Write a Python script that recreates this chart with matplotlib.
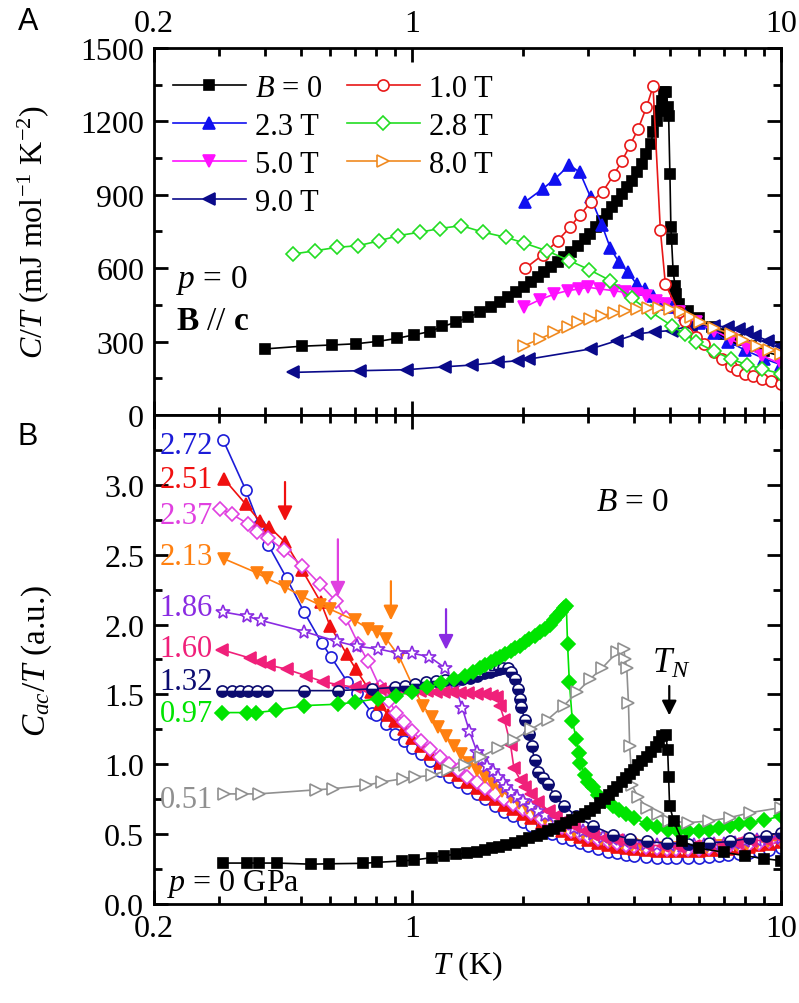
import matplotlib
matplotlib.use('Agg')
import matplotlib.pyplot as plt
from matplotlib.ticker import FixedLocator, NullFormatter, FixedFormatter

plt.rcParams['font.family'] = ['Liberation Serif', 'DejaVu Serif']
plt.rcParams['mathtext.fontset'] = 'custom'
plt.rcParams['mathtext.rm'] = 'Liberation Serif'
plt.rcParams['mathtext.it'] = 'Liberation Serif:italic'
plt.rcParams['mathtext.bf'] = 'Liberation Serif:bold'

# ---------------- Panel A data: C/T (mJ mol^-1 K^-2) vs T (K) ----------------
a_B0_T = [0.40, 0.503, 0.606, 0.705, 0.811, 0.909, 1.01, 1.12, 1.21, 1.32, 1.42, 1.53, 1.64, 1.73, 1.82,
          1.91, 2.01, 2.10, 2.19, 2.28, 2.38, 2.48, 2.59, 2.70, 2.82, 2.94, 3.04, 3.16, 3.27, 3.38, 3.48,
          3.59, 3.71, 3.82, 3.94, 4.06, 4.19, 4.32, 4.43, 4.51, 4.61, 4.68, 4.75, 4.81, 4.88, 4.94, 4.96,
          5.0, 5.03, 5.05, 5.1, 5.16, 5.2, 5.3, 5.6, 6.0, 6.5, 7.0, 7.6, 8.3, 9.0, 10.0]
a_B0_C = [270, 281, 286, 291, 301, 313, 327, 341, 362, 379, 399, 420, 440, 461, 481,
          501, 522, 542, 563, 583, 604, 624, 644, 667, 692, 719, 740, 767, 794, 821, 849,
          876, 903, 931, 958, 992, 1026, 1067, 1108, 1155, 1203, 1244, 1285, 1319, 1321, 1258, 1223,
          985, 767, 719, 590, 528, 494, 454, 425, 395, 360, 330, 305, 280, 260, 240]

a_10_T = [2.03, 2.26, 2.48, 2.68, 2.85, 3.05, 3.29, 3.52, 3.71, 3.90, 4.10, 4.32, 4.50, 4.71, 4.86,
          5.28, 5.5, 5.9, 6.2, 6.6, 6.9, 7.3, 7.6, 8.0, 8.4, 8.9, 9.4, 10.0]
a_10_C = [600, 654, 712, 767, 817, 869, 913, 981, 1039, 1103, 1169, 1258, 1343, 757, 535,
          421, 385, 318, 290, 256, 230, 201, 185, 168, 158, 147, 137, 127]

a_23_T = [2.03, 2.26, 2.44, 2.67, 2.85, 3.05, 3.27, 3.45, 3.64, 3.85, 4.06, 4.28, 4.50, 4.78, 5.05,
          5.5, 6.0, 6.6, 7.2, 8.0, 9.0, 10.0]
a_23_C = [872, 924, 965, 1022, 992, 889, 777, 681, 624, 583, 535, 515, 485, 454, 440,
          410, 375, 335, 300, 265, 230, 205]

a_28_T = [0.477, 0.546, 0.625, 0.716, 0.816, 0.918, 1.05, 1.19, 1.36, 1.56, 1.80, 2.01, 2.32, 2.67,
          3.02, 3.45, 3.94, 4.45, 5.05, 5.5, 5.9, 6.6, 7.3, 8.1, 8.9, 10.0]
a_28_C = [658, 671, 685, 692, 712, 733, 747, 762, 774, 747, 726, 703, 671, 631,
          594, 549, 477, 420, 365, 330, 297, 260, 229, 205, 188, 168]

a_50_T = [2.01, 2.22, 2.43, 2.64, 2.84, 3.0, 3.23, 3.52, 3.78, 4.06, 4.32, 4.59, 4.89, 5.3, 5.9,
          6.6, 7.3, 8.1, 8.9, 10.0]
a_50_C = [440, 471, 494, 508, 515, 522, 515, 508, 501, 494, 488, 467, 454, 420, 379,
          345, 311, 275, 242, 208]

a_80_T = [2.01, 2.22, 2.43, 2.64, 2.82, 3.04, 3.27, 3.52, 3.78, 4.06, 4.37, 4.68, 5.0, 5.35, 5.7,
          6.03, 6.6, 7.3, 7.9, 8.6, 9.3, 10.0]
a_80_C = [283, 311, 338, 358, 379, 392, 406, 417, 426, 433, 436, 436, 433, 420, 400,
          379, 355, 331, 305, 283, 265, 249]

a_90_T = [0.477, 0.723, 0.968, 1.229, 1.452, 1.714, 1.94, 2.07, 3.05, 3.6, 4.06, 4.55, 5.05, 5.7,
          6.6, 7.2, 7.7, 8.1, 8.5, 9.2, 10.0]
a_90_C = [174, 181, 185, 197, 204, 215, 222, 228, 270, 304, 331, 340, 345, 365,
          365, 358, 351, 338, 324, 304, 283]

# ---------------- Panel B data: C_ac/T (a.u.) vs T (K) at pressures (GPa) ----------------
b_272_T = [0.308, 0.355, 0.386, 0.408, 0.458, 0.51, 0.569, 0.603, 0.668, 0.708, 0.778, 0.80, 0.85, 0.90,
           0.95, 1.0, 1.06, 1.12, 1.19, 1.26, 1.33, 1.41, 1.50, 1.58, 1.68, 1.78, 1.88, 2.0, 2.1, 2.25,
           2.4, 2.55, 2.7, 2.85, 3.0, 3.2, 3.4, 3.6, 3.8, 4.0, 4.3, 4.6, 4.9, 5.2, 5.6, 6.0, 6.4, 6.8,
           7.2, 7.7, 8.2, 8.7, 9.3, 10.0]
b_272_V = [3.32, 2.96, 2.71, 2.57, 2.33, 2.09, 1.87, 1.77, 1.59, 1.51, 1.37, 1.35, 1.29, 1.22,
           1.17, 1.12, 1.07, 1.02, 0.95, 0.91, 0.87, 0.83, 0.79, 0.75, 0.70, 0.66, 0.63, 0.59, 0.56, 0.525,
           0.50, 0.475, 0.455, 0.435, 0.415, 0.395, 0.375, 0.362, 0.352, 0.345, 0.338, 0.332, 0.328, 0.327,
           0.327, 0.332, 0.338, 0.344, 0.35, 0.357, 0.365, 0.375, 0.385, 0.40]

b_251_T = [0.31, 0.355, 0.387, 0.41, 0.453, 0.504, 0.566, 0.60, 0.665, 0.705, 0.773, 0.819, 0.863, 0.9,
           0.95, 1.0, 1.06, 1.12, 1.19, 1.26, 1.33, 1.41, 1.5, 1.58, 1.68, 1.78, 1.88, 2.0, 2.1, 2.25,
           2.4, 2.55, 2.7, 2.85, 3.0, 3.2, 3.4, 3.6, 3.8, 4.0, 4.3, 4.6, 4.9, 5.2, 5.6, 6.0, 6.4, 6.8,
           7.2, 7.7, 8.2, 8.7, 9.3, 10.0]
b_251_V = [3.04, 2.86, 2.74, 2.70, 2.59, 2.39, 2.16, 1.99, 1.79, 1.68, 1.515, 1.43, 1.35, 1.31,
           1.25, 1.19, 1.13, 1.07, 1.01, 0.96, 0.92, 0.87, 0.83, 0.79, 0.75, 0.71, 0.68, 0.645, 0.615, 0.58,
           0.55, 0.52, 0.50, 0.48, 0.46, 0.44, 0.425, 0.41, 0.40, 0.392, 0.385, 0.38, 0.377, 0.376, 0.377,
           0.38, 0.385, 0.39, 0.395, 0.40, 0.41, 0.42, 0.43, 0.445]

b_237_T = [0.302, 0.325, 0.36, 0.381, 0.408, 0.451, 0.505, 0.563, 0.621, 0.661, 0.716, 0.759, 0.819, 0.868,
           0.905, 0.95, 1.0, 1.06, 1.12, 1.19, 1.26, 1.33, 1.41, 1.5, 1.58, 1.68, 1.78, 1.88, 2.0, 2.1,
           2.25, 2.4, 2.55, 2.7, 2.85, 3.0, 3.2, 3.4, 3.6, 3.8, 4.0, 4.3, 4.6, 4.9, 5.2, 5.6, 6.0, 6.4,
           6.8, 7.2, 7.7, 8.2, 8.7, 9.3, 10.0]
b_237_V = [2.83, 2.79, 2.72, 2.665, 2.62, 2.53, 2.42, 2.29, 2.17, 2.05, 1.86, 1.74, 1.55, 1.455,
           1.37, 1.30, 1.24, 1.17, 1.11, 1.05, 1.0, 0.96, 0.91, 0.87, 0.83, 0.79, 0.75, 0.715, 0.68, 0.65,
           0.61, 0.58, 0.55, 0.525, 0.505, 0.485, 0.465, 0.45, 0.435, 0.425, 0.415, 0.405, 0.40, 0.395,
           0.393, 0.393, 0.395, 0.40, 0.405, 0.41, 0.42, 0.43, 0.44, 0.45, 0.465]

b_213_T = [0.31, 0.38, 0.404, 0.453, 0.504, 0.563, 0.60, 0.70, 0.761, 0.805, 0.851, 0.924, 1.013, 1.073,
           1.13, 1.18, 1.24, 1.3, 1.36, 1.43, 1.5, 1.58, 1.66, 1.75, 1.85, 1.95, 2.05, 2.15, 2.3, 2.45,
           2.6, 2.75, 2.9, 3.05, 3.25, 3.45, 3.7, 3.95, 4.2, 4.5, 4.8, 5.1, 5.5, 5.9, 6.3, 6.7, 7.1, 7.6,
           8.1, 8.6, 9.2, 10.0]
b_213_V = [2.47, 2.37, 2.33, 2.27, 2.20, 2.14, 2.11, 2.03, 1.97, 1.95, 1.90, 1.77, 1.54, 1.415,
           1.34, 1.27, 1.20, 1.13, 1.07, 1.01, 0.96, 0.91, 0.86, 0.81, 0.765, 0.72, 0.685, 0.655, 0.615,
           0.58, 0.55, 0.525, 0.505, 0.485, 0.465, 0.45, 0.435, 0.425, 0.415, 0.407, 0.402, 0.40, 0.40,
           0.403, 0.408, 0.413, 0.418, 0.425, 0.433, 0.44, 0.45, 0.46]

b_186_T = [0.308, 0.357, 0.389, 0.51, 0.625, 0.708, 0.811, 0.918, 0.998, 1.114, 1.229, 1.308, 1.37, 1.43,
           1.50, 1.55, 1.60, 1.66, 1.71, 1.76, 1.80, 1.86, 1.92, 2.0, 2.1, 2.2, 2.3, 2.45, 2.6, 2.75,
           2.9, 3.1, 3.3, 3.5, 3.75, 4.0, 4.3, 4.6, 5.0, 5.4, 5.8, 6.2, 6.6, 7.0, 7.5, 8.0, 8.6, 9.2, 10.0]
b_186_V = [2.09, 2.06, 2.03, 1.95, 1.88, 1.845, 1.825, 1.795, 1.795, 1.77, 1.69, 1.56, 1.40, 1.24,
           1.09, 1.04, 0.99, 0.95, 0.91, 0.87, 0.84, 0.80, 0.765, 0.735, 0.70, 0.665, 0.635, 0.60, 0.57,
           0.545, 0.525, 0.50, 0.48, 0.465, 0.45, 0.44, 0.43, 0.423, 0.42, 0.418, 0.42, 0.423, 0.428,
           0.433, 0.44, 0.448, 0.455, 0.463, 0.475]

b_160_T = [0.305, 0.364, 0.387, 0.41, 0.458, 0.516, 0.575, 0.632, 0.70, 0.74, 0.78, 0.82, 0.86, 0.9,
           0.95, 1.0, 1.05, 1.1, 1.16, 1.22, 1.28, 1.35, 1.42, 1.5, 1.58, 1.65, 1.70, 1.73, 1.78, 1.85,
           1.89, 1.97, 2.03, 2.1, 2.2, 2.35, 2.45, 2.58, 2.75, 2.94, 3.1, 3.34, 3.6, 3.9, 4.33, 4.8, 5.3,
           5.8, 6.4, 7.0, 7.6, 8.3, 9.1, 10.0]
b_160_V = [1.82, 1.76, 1.735, 1.71, 1.68, 1.634, 1.59, 1.57, 1.55, 1.545, 1.54, 1.54, 1.535, 1.535,
           1.53, 1.53, 1.525, 1.525, 1.52, 1.52, 1.515, 1.51, 1.51, 1.505, 1.50, 1.49, 1.48, 1.42, 1.32,
           1.14, 0.97, 0.885, 0.84, 0.79, 0.73, 0.666, 0.63, 0.594, 0.555, 0.521, 0.495, 0.472, 0.455, 0.44,
           0.424, 0.415, 0.41, 0.412, 0.42, 0.43, 0.44, 0.45, 0.46, 0.47]

b_132_T = [0.305, 0.325, 0.342, 0.36, 0.38, 0.404, 0.51, 0.632, 0.78, 0.9, 0.96, 1.02, 1.09, 1.16, 1.23,
           1.3, 1.37, 1.44, 1.5, 1.57, 1.63, 1.68, 1.72, 1.77, 1.82, 1.86, 1.9, 1.94, 1.96, 1.98, 2.02,
           2.07, 2.11, 2.15, 2.2, 2.26, 2.33, 2.44, 2.58, 2.79, 3.09, 3.5, 3.9, 4.33, 4.9, 5.6, 6.4, 7.26,
           8.2, 9.1, 10.0]
b_132_V = [1.527, 1.527, 1.527, 1.527, 1.527, 1.527, 1.527, 1.527, 1.54, 1.55, 1.56, 1.575, 1.59, 1.595,
           1.60, 1.605, 1.61, 1.62, 1.635, 1.65, 1.66, 1.675, 1.685, 1.69, 1.69, 1.66, 1.61, 1.54, 1.47,
           1.41, 1.32, 1.22, 1.13, 1.03, 0.946, 0.90, 0.86, 0.776, 0.703, 0.63, 0.558, 0.497, 0.465, 0.448,
           0.435, 0.43, 0.435, 0.448, 0.47, 0.49, 0.51]

b_097_T = [0.305, 0.357, 0.378, 0.427, 0.51, 0.632, 0.70, 0.81, 0.905, 1.0, 1.1, 1.2, 1.3, 1.39, 1.46,
           1.53, 1.58, 1.64, 1.69, 1.73, 1.79, 1.85, 1.9, 1.96, 2.02, 2.08, 2.15, 2.22, 2.29, 2.36, 2.42,
           2.47, 2.53, 2.58, 2.62, 2.64, 2.67, 2.72, 2.79, 2.83, 2.86, 2.94, 3.0, 3.09, 3.2, 3.34, 3.5,
           3.65, 3.8, 4.0, 4.33, 4.6, 4.93, 5.25, 5.6, 6.0, 6.38, 6.8, 7.26, 7.7, 8.26, 9.0, 10.0]
b_097_V = [1.37, 1.37, 1.37, 1.385, 1.42, 1.43, 1.445, 1.47, 1.49, 1.52, 1.55, 1.58, 1.61, 1.634, 1.66,
           1.69, 1.71, 1.73, 1.75, 1.77, 1.79, 1.81, 1.83, 1.85, 1.875, 1.90, 1.92, 1.945, 1.97, 2.0, 2.03,
           2.06, 2.09, 2.12, 2.135, 1.86, 1.59, 1.31, 1.18, 1.08, 1.01, 0.92, 0.87, 0.837, 0.78, 0.74, 0.70,
           0.67, 0.642, 0.615, 0.57, 0.55, 0.533, 0.525, 0.521, 0.525, 0.533, 0.545, 0.558, 0.57, 0.582,
           0.60, 0.63]

b_051_T = [0.31, 0.347, 0.384, 0.548, 0.61, 0.75, 0.829, 0.947, 1.02, 1.13, 1.25, 1.39, 1.54, 1.71, 1.89,
           2.1, 2.33, 2.58, 2.8, 3.04, 3.28, 3.59, 3.75, 3.78, 3.82, 3.86, 3.89, 3.95, 4.1, 4.33, 4.65,
           4.97, 5.6, 6.38, 7.26, 8.26, 10.0]
b_051_V = [0.788, 0.788, 0.788, 0.817, 0.825, 0.849, 0.873, 0.897, 0.909, 0.92, 0.958, 0.994, 1.055,
           1.115, 1.176, 1.25, 1.32, 1.42, 1.515, 1.61, 1.69, 1.80, 1.825, 1.75, 1.69, 1.44, 1.13, 0.849,
           0.764, 0.69, 0.642, 0.594, 0.582, 0.594, 0.618, 0.654, 0.69]

b_000_T = [0.308, 0.357, 0.386, 0.43, 0.534, 0.596, 0.738, 0.803, 0.94, 1.01, 1.13, 1.22, 1.32, 1.41,
           1.50, 1.58, 1.65, 1.72, 1.80, 1.9, 1.99, 2.08, 2.18, 2.25, 2.33, 2.42, 2.52, 2.62, 2.72, 2.83,
           2.94, 3.03, 3.13, 3.23, 3.34, 3.42, 3.5, 3.6, 3.7, 3.8, 3.89, 4.0, 4.1, 4.2, 4.33, 4.45, 4.57,
           4.66, 4.75, 4.87, 4.93, 4.96, 4.99, 5.12, 5.4, 6.0, 7.0, 8.0, 9.0, 10.0]
b_000_V = [0.293, 0.293, 0.293, 0.293, 0.285, 0.288, 0.291, 0.298, 0.308, 0.315, 0.331, 0.346, 0.356,
           0.365, 0.375, 0.388, 0.40, 0.41, 0.424, 0.44, 0.453, 0.47, 0.485, 0.50, 0.521, 0.54, 0.558,
           0.578, 0.598, 0.62, 0.642, 0.665, 0.69, 0.72, 0.752, 0.78, 0.812, 0.84, 0.873, 0.90, 0.933, 0.96,
           0.994, 1.02, 1.055, 1.09, 1.127, 1.16, 1.20, 1.213, 1.10, 0.909, 0.703, 0.594, 0.448, 0.40, 0.37,
           0.345, 0.325, 0.31]

pressure_labels = ['2.72', '2.51', '2.37', '2.13', '1.86', '1.60', '1.32', '0.97', '0.51']
pressure_label_y = [3.28, 3.04, 2.78, 2.49, 2.12, 1.83, 1.59, 1.36, 0.75]

# arrows marking kinks: (T, tail value, tip value)
arrow_T = [0.453, 0.63, 0.877, 1.237]
arrow_tail = [3.04, 2.63, 2.33, 2.13]
arrow_tip = [2.72, 2.18, 2.01, 1.80]

# ---------------- figure ----------------
fig = plt.figure(figsize=(7.99, 10.04), dpi=100)
axA = fig.add_axes([0.1927, 0.5857, 0.7848, 0.3655])
axB = fig.add_axes([0.1927, 0.0986, 0.7848, 0.4871])

TICK_FS = 23
for ax in (axA, axB):
    ax.set_xscale('log')
    ax.set_xlim(0.2, 10)
    ax.xaxis.set_major_locator(FixedLocator([0.2, 1, 10]))
    ax.xaxis.set_major_formatter(FixedFormatter(['0.2', '1', '10']))
    ax.xaxis.set_minor_locator(FixedLocator([0.3, 0.4, 0.5, 0.6, 0.7, 0.8, 0.9, 2, 3, 4, 5, 6, 7, 8, 9]))
    ax.xaxis.set_minor_formatter(NullFormatter())
    ax.tick_params(which='both', direction='in', top=True, right=True, width=2)
    ax.tick_params(which='major', length=10, labelsize=TICK_FS, pad=7)
    ax.tick_params(which='minor', length=6)
    for s in ax.spines.values():
        s.set_linewidth(2)

axA.tick_params(axis='x', labeltop=True, labelbottom=False)
axA.set_ylim(0, 1500)
axA.yaxis.set_major_locator(FixedLocator([0, 300, 600, 900, 1200, 1500]))
axA.yaxis.set_minor_locator(FixedLocator([150, 450, 750, 1050, 1350]))

axB.set_ylim(0, 3.5)
axB.yaxis.set_major_locator(FixedLocator([0, 0.5, 1.0, 1.5, 2.0, 2.5, 3.0]))
axB.yaxis.set_major_formatter(FixedFormatter(['0.0', '0.5', '1.0', '1.5', '2.0', '2.5', '3.0']))
axB.yaxis.set_minor_locator(FixedLocator([0.25, 0.75, 1.25, 1.75, 2.25, 2.75, 3.25]))

LW = 1.2
# Panel A series
sA = [
    (a_B0_T, a_B0_C, r'$B$ = 0', dict(color='black', marker='s', mfc='black', ms=7)),
    (a_23_T, a_23_C, '2.3 T', dict(color='#1010f0', marker='^', mfc='#1010f0', ms=9)),
    (a_50_T, a_50_C, '5.0 T', dict(color='#ff10ff', marker='v', mfc='#ff10ff', ms=9)),
    (a_90_T, a_90_C, '9.0 T', dict(color='#0a0a8a', marker='<', mfc='#0a0a8a', ms=9)),
    (a_10_T, a_10_C, '1.0 T', dict(color='#e81818', marker='o', mfc='white', ms=8)),
    (a_28_T, a_28_C, '2.8 T', dict(color='#22dd22', marker='D', mfc='white', ms=7)),
    (a_80_T, a_80_C, '8.0 T', dict(color='#f08a20', marker='>', mfc='white', ms=9)),
]
handles = []
for T, C, lab, st in sA:
    h, = axA.plot(T, C, lw=LW, mew=1.2, label=lab, **st)
    handles.append(h)
axA.legend(handles=handles, ncol=2, loc='upper left', bbox_to_anchor=(0.03, 0.93),
           frameon=False, fontsize=22, handlelength=2.4, handletextpad=0.3,
           columnspacing=0.8, labelspacing=0.3, borderpad=0, borderaxespad=0)
axA.text(0.035, 0.37, r'$p$ = 0', transform=axA.transAxes, fontsize=24, va='center', ha='left')
axA.text(0.035, 0.256, r'$\mathbf{B}$ // $\mathbf{c}$', transform=axA.transAxes, fontsize=24,
         va='center', ha='left')
axA.set_ylabel(r'$C/T$ (mJ mol$^{\mathrm{-1}}$ K$^{\mathrm{-2}}$)', fontsize=23)
axA.yaxis.set_label_coords(-0.165, 0.5)

# Panel B series
pcol = ['#1c1cd8', '#f01010', '#e040e0', '#ff8010', '#8a2be2', '#f0207a', '#0b0b70', '#00e400', '#909090']
sB = [
    (b_272_T, b_272_V, dict(color=pcol[0], marker='o', mfc='white', ms=8)),
    (b_251_T, b_251_V, dict(color=pcol[1], marker='^', mfc=pcol[1], ms=9)),
    (b_237_T, b_237_V, dict(color=pcol[2], marker='D', mfc='white', ms=7)),
    (b_213_T, b_213_V, dict(color=pcol[3], marker='v', mfc=pcol[3], ms=9)),
    (b_186_T, b_186_V, dict(color=pcol[4], marker='*', mfc='white', ms=10)),
    (b_160_T, b_160_V, dict(color=pcol[5], marker='<', mfc=pcol[5], ms=9)),
    (b_132_T, b_132_V, dict(color=pcol[6], marker='o', mfc=pcol[6], fillstyle='bottom',
                            markerfacecoloralt='white', ms=8)),
    (b_097_T, b_097_V, dict(color=pcol[7], marker='D', mfc=pcol[7], ms=7)),
    (b_051_T, b_051_V, dict(color=pcol[8], marker='>', mfc='white', ms=9)),
    (b_000_T, b_000_V, dict(color='black', marker='s', mfc='black', ms=7)),
]
for T, V, st in sB:
    axB.plot(T, V, lw=LW, mew=1.2, **st)

for lab, y, c in zip(pressure_labels, pressure_label_y, pcol):
    axB.text(0.289, y, lab, color=c, fontsize=22, ha='right', va='center')

for T, t0, t1, c in zip(arrow_T, arrow_tail, arrow_tip, [pcol[1], pcol[2], pcol[3], pcol[4]]):
    axB.annotate('', xy=(T, t1), xytext=(T, t0),
                 arrowprops=dict(arrowstyle='-|>', color=c, lw=1.6, mutation_scale=22))
axB.annotate('', xy=(4.98, 1.33), xytext=(4.98, 1.58),
             arrowprops=dict(arrowstyle='-|>', color='black', lw=1.6, mutation_scale=22))
axB.text(5.05, 1.72, r'$T_N$', fontsize=25, ha='center', va='center')
axB.text(3.97, 2.88, r'$B$ = 0', fontsize=24, ha='center', va='center')
axB.text(0.02, 0.043, r'$p$ = 0 GPa', transform=axB.transAxes, fontsize=23, ha='left', va='center')

axB.set_ylabel(r'$C_{ac}/T$ (a.u.)', fontsize=24)
axB.yaxis.set_label_coords(-0.16, 0.5)
axB.set_xlabel(r'$T$ (K)', fontsize=23)

fig.text(0.022, 0.978, 'A', fontsize=22, family='Liberation Sans', va='center')
fig.text(0.022, 0.565, 'B', fontsize=22, family='Liberation Sans', va='center')

fig.savefig('out.png', dpi=100)
